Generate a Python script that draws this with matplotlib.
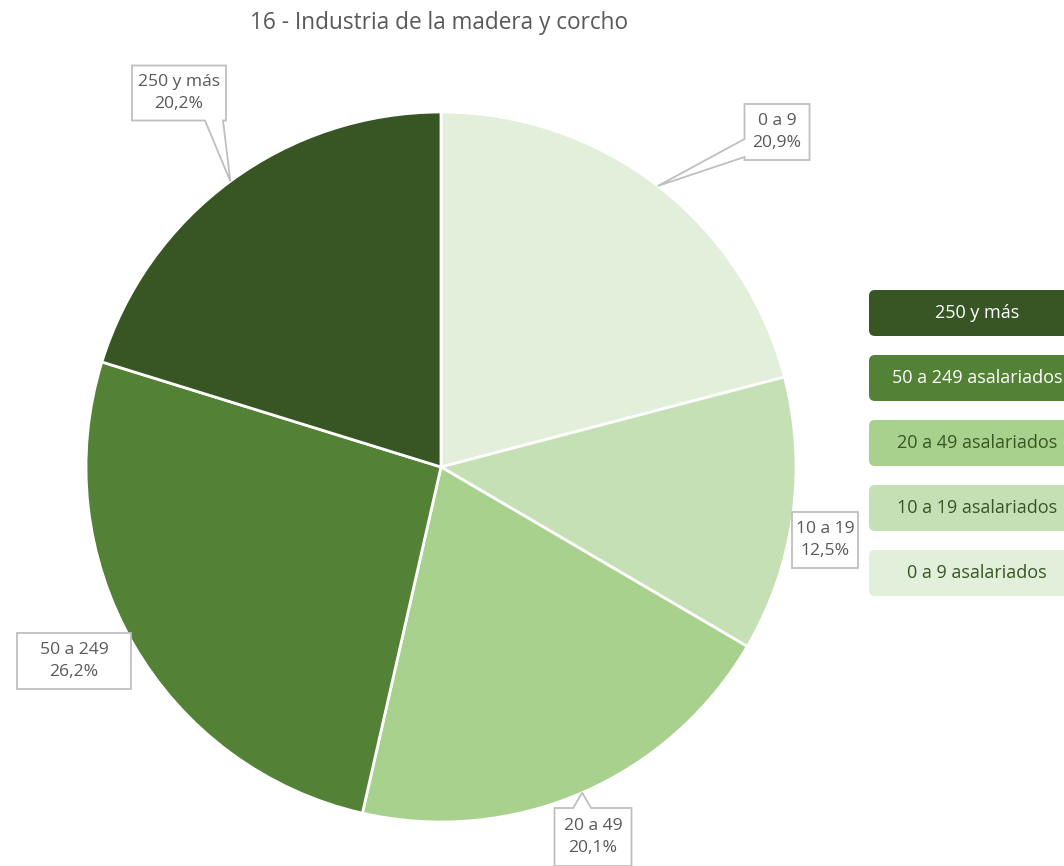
import numpy as np
import matplotlib.pyplot as plt
from matplotlib.patches import Polygon, FancyBboxPatch

plt.rcParams['font.family'] = ['Open Sans', 'DejaVu Sans']

# data
categorias = ["0 a 9", "10 a 19", "20 a 49", "50 a 249", "250 y más"]
porcentajes = [20.9, 12.5, 20.1, 26.2, 20.2]
colores = ["#E2EFDA", "#C5E0B4", "#A9D18E", "#538135", "#375623"]
leyenda = ["250 y más", "50 a 249 asalariados", "20 a 49 asalariados",
           "10 a 19 asalariados", "0 a 9 asalariados"]
colores_leyenda = ["#375623", "#538135", "#A9D18E", "#C5E0B4", "#E2EFDA"]
texto_leyenda = ["white", "white", "#375623", "#375623", "#375623"]

W, H = 1064, 866
fig = plt.figure(figsize=(W / 100, H / 100), dpi=100)
ax = fig.add_axes([0, 0, 1, 1])

centro = (441, H - 467)
radio = 355
wedges, _ = ax.pie(porcentajes, colors=colores, startangle=90, counterclock=False,
                   center=centro, radius=radio, frame=True,
                   wedgeprops=dict(edgecolor="white", linewidth=2))
ax.set_xlim(0, W)
ax.set_ylim(0, H)
ax.set_aspect("equal")
ax.axis("off")

ax.text(439, H - 23, "16 - Industria de la madera y corcho", ha="center", va="center",
        fontsize=16.3, color="#595959")

# label boxes (center x, center y in px from top, width, height)
cajas = [(777, 132, 65, 56), (825, 540, 66, 56), (593, 837, 77, 58),
         (74, 661, 114, 56), (179, 93, 94, 55)]


def callout(x0, x1, y0, y1, tip):
    tx, ty = tip
    b = 9
    pts = [(x0, y0)]
    if ty < y0 and x0 - 5 < tx:  # below
        c = min(max(tx, x0 + b + 3), x1 - b - 3)
        pts += [(c - b, y0), (tx, ty), (c + b, y0)]
    pts.append((x1, y0))
    if tx > x1 and y0 <= ty <= y1:  # right
        pts += [(x1, ty - b), (tx, ty), (x1, ty + b)]
    pts.append((x1, y1))
    if ty > y1:  # above
        c = min(max(tx, x0 + b + 3), x1 - b - 3)
        pts += [(c + b, y1), (tx, ty), (c - b, y1)]
    pts.append((x0, y1))
    if tx < x0 and ty <= y0 + 30:  # left
        c = min(max(ty, y0 + b + 3), y1 - b - 3)
        pts += [(x0, c + b), (tx, ty), (x0, c - b)]
    return pts


for w, cat, pct, (cx, cy, bw, bh) in zip(wedges, categorias, porcentajes, cajas):
    ang = np.deg2rad((w.theta1 + w.theta2) / 2)
    tip = (w.center[0] + w.r * np.cos(ang), w.center[1] + w.r * np.sin(ang))
    yc = H - cy
    x0, x1, y0, y1 = cx - bw / 2, cx + bw / 2, yc - bh / 2, yc + bh / 2
    dentro = x0 - 3 <= tip[0] <= x1 + 3 and y0 - 3 <= tip[1] <= y1 + 3
    if dentro:
        pts = [(x0, y0), (x1, y0), (x1, y1), (x0, y1)]
    else:
        pts = callout(x0, x1, y0, y1, tip)
    ax.add_patch(Polygon(pts, closed=True, facecolor="white", edgecolor="#BFBFBF",
                         linewidth=1.3, zorder=5))
    ax.text(cx, yc, f"{cat}\n{pct:.1f}%".replace(".", ","), ha="center", va="center",
            fontsize=12.6, color="#595959", linespacing=1.5, zorder=6)

# legend
for i, (lab, col, tc) in enumerate(zip(leyenda, colores_leyenda, texto_leyenda)):
    yc = H - (313 + i * 65)
    ax.add_patch(FancyBboxPatch((873, yc - 19), 210, 38,
                                boxstyle="round,pad=4,rounding_size=6",
                                facecolor=col, edgecolor="none", zorder=5, clip_on=False))
    ax.text(977, yc, lab, ha="center", va="center", fontsize=13, color=tc, zorder=6)

fig.savefig("out.png", dpi=100)
